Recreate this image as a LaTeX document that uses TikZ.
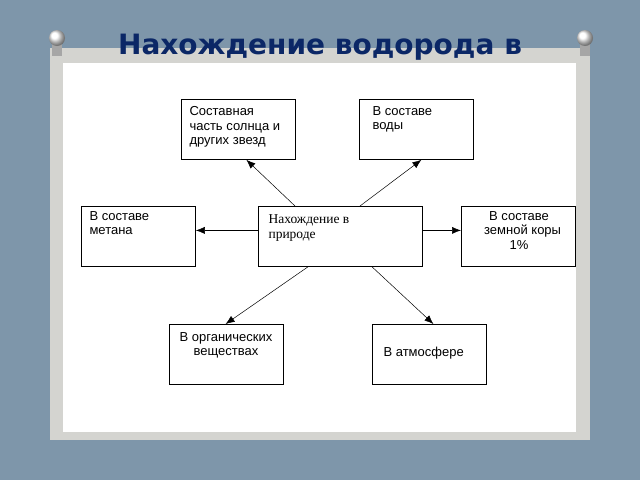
\documentclass[tikz,border=0pt]{standalone}
\usepackage{fontspec}
\setmainfont{Liberation Sans}
\newfontfamily\serifx{Liberation Serif}
\newfontfamily\titlef{DejaVu Sans}
\usetikzlibrary{arrows.meta}
\definecolor{bgc}{HTML}{7E96AA}
\definecolor{framec}{HTML}{D4D4D0}
\definecolor{titlec}{HTML}{0B2766}
\tikzset{x=1pt,y=-1pt,
 box/.style={draw,line width=0.8pt,fill=white,minimum width=114pt,minimum height=60pt,inner sep=0pt},
 txt/.style={font=\fontsize{13}{14.5}\selectfont,align=left,anchor=north west},
 arr/.style={-{Latex[length=9pt,width=7pt]},line width=0.5pt}}
\begin{document}
\begin{tikzpicture}
\useasboundingbox (0,0) rectangle (640,480);
\fill[bgc] (0,0) rectangle (640,480);
\fill[framec] (50,48) rectangle (590,440);
\fill[white] (63,63) rectangle (576,432);
\foreach \px in {57,585}{
 \fill[gray!70] (\px-5,40) rectangle (\px+5,56);
 \shade[ball color=white] (\px,38) circle (8);
}
\node[font=\titlef\bfseries\fontsize{28}{30}\selectfont,text=titlec] (title) at (320,47) {Нахождение водорода в};
\node[box,anchor=north west] (sun) at (181,99) {};
\node[txt] at (186,103) {Составная\\часть солнца и\\других звезд};
\node[box,anchor=north west] (water) at (359,99) {};
\node[txt] at (369,103) {В составе\\воды};
\node[box,anchor=north west] (meth) at (81,206) {};
\node[txt] at (86,208) {В составе\\метана};
\node[box,anchor=north west,minimum width=164pt] (c) at (258,206) {};
\node[txt,font=\serifx\fontsize{13.5}{15.5}\selectfont] at (265,211) {Нахождение в\\природе};
\node[box,anchor=north west] (earth) at (461,206) {};
\node[txt,align=center,anchor=north] at (519,208) {В составе\\\ \ земной коры\\1\%};
\node[box,anchor=north west,line width=1.2pt] (org) at (169,324) {};
\node[txt,align=center,anchor=north] at (226,329) {В органических\\веществах};
\node[box,anchor=north west] (atm) at (372,324) {};
\node[txt,anchor=west] at (380,353) {В атмосфере};
\draw[arr] ([xshift=37pt]c.north west) -- ([xshift=8pt]sun.south);
\draw[arr] ([xshift=102pt]c.north west) -- ([xshift=5pt]water.south);
\draw[arr] ([yshift=6pt]c.west) -- ([yshift=6pt]meth.east);
\draw[arr] ([yshift=6pt]c.east) -- ([yshift=6pt]earth.west);
\draw[arr] ([xshift=50pt]c.south west) -- ([xshift=-1pt]org.north);
\draw[arr] ([xshift=114pt]c.south west) -- ([xshift=4pt]atm.north);
\end{tikzpicture}
\end{document}
